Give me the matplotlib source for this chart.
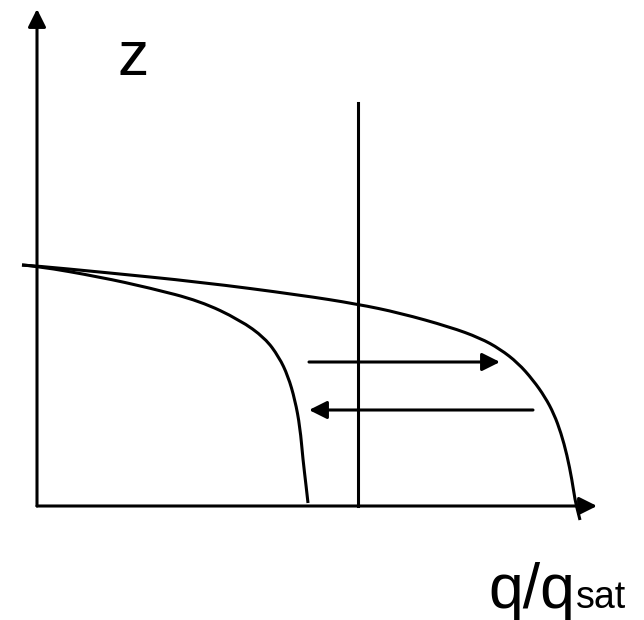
'''
Schematic: z vs q/qsat profiles with a threshold line
'''

import matplotlib.pyplot as plt
from matplotlib.path import Path
from matplotlib.patches import PathPatch

W, H = 644, 620

# curves, in picture pixels (x to the right, z downward)
outer_x = [22, 37, 100, 200, 300, 357, 400, 450, 480, 500, 518, 533, 545, 554, 561, 567, 572, 575, 578, 580]
outer_z = [265, 266, 272, 282, 295, 304, 313, 327, 338, 349, 363, 380, 397, 414, 433, 455, 480, 500, 512, 520]
inner_x = [22, 37, 100, 150, 200, 240, 265, 279, 288, 295, 300, 303, 306, 308]
inner_z = [265, 266, 277, 288, 301, 320, 338, 357, 376, 400, 427, 460, 485, 503]

# axes and threshold line
origin = (37, 506)
z_tip = (37, 9)
q_tip = (597, 506)
thresh_x = 358
thresh_top = 103

# the two horizontal arrows: (start, tip)
arrows = [((309, 362), (500, 362)), ((533, 410), (309, 410))]

plt.rcParams['font.family'] = ['Liberation Sans', 'DejaVu Sans']


def smooth_path(xs, ys):
    # quadratic bezier through midpoints, read points act as control points
    pts = list(zip(xs, ys))
    verts = [pts[0]]
    codes = [Path.MOVETO]
    for i in range(1, len(pts) - 1):
        mid = ((pts[i][0] + pts[i + 1][0]) / 2, (pts[i][1] + pts[i + 1][1]) / 2)
        if i == len(pts) - 2:
            mid = pts[-1]
        verts += [pts[i], mid]
        codes += [Path.CURVE3, Path.CURVE3]
    return Path(verts, codes)


fig = plt.figure(figsize=(W / 100, H / 100), dpi=100)
ax = fig.add_axes([0, 0, 1, 1])
ax.set_xlim(0, W)
ax.set_ylim(H, 0)
ax.axis("off")

lw = 2.2
head = dict(arrowstyle="-|>,head_length=0.4,head_width=0.2", mutation_scale=27,
            lw=lw, color="black", shrinkA=0, shrinkB=0)

ax.annotate("", xy=z_tip, xytext=origin, arrowprops=head)
ax.annotate("", xy=q_tip, xytext=origin, arrowprops=head)
ax.plot([thresh_x, thresh_x], [thresh_top, origin[1]], color="black", lw=lw)

for xs, zs in [(outer_x, outer_z), (inner_x, inner_z)]:
    ax.add_patch(PathPatch(smooth_path(xs, zs), fill=False, lw=lw, edgecolor="black",
                           capstyle="butt", joinstyle="round"))

for start, tip in arrows:
    ax.annotate("", xy=tip, xytext=start, arrowprops=head)

ax.text(118, 75, "z", fontsize=45, ha="left", va="baseline")
t = ax.text(488, 608, "q/q", fontsize=45, ha="left", va="baseline")
fig.canvas.draw()
bb = t.get_window_extent()
x_end = ax.transData.inverted().transform((bb.x1, bb.y0))[0]
ax.text(x_end + 1, 608, "sat", fontsize=27, ha="left", va="baseline")

fig.savefig("out.png", dpi=100)
